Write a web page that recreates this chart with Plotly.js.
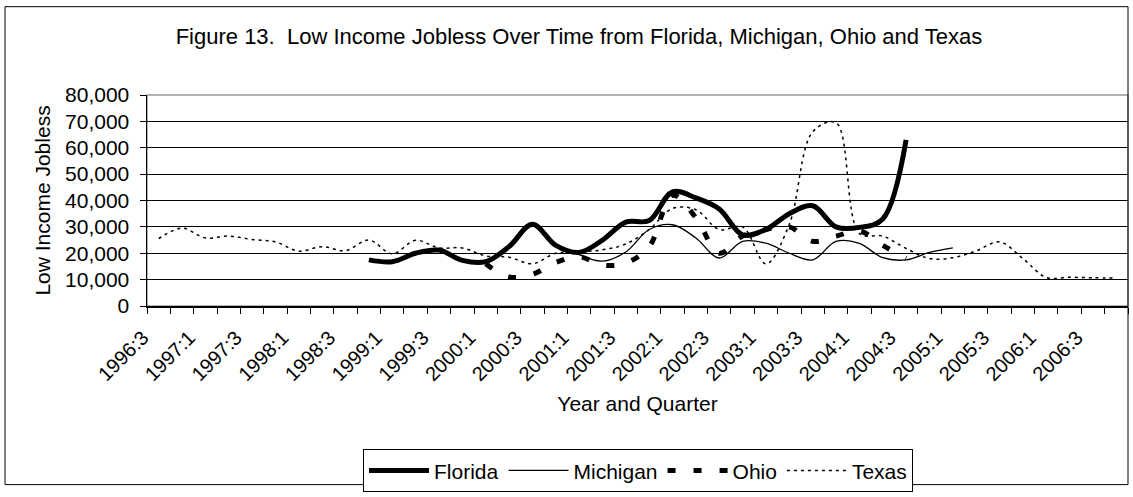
<!DOCTYPE html>
<html>
<head>
<meta charset="utf-8">
<script src="https://cdn.plot.ly/plotly-3.0.1.min.js"></script>
<style>
html,body{margin:0;padding:0;background:#fff;}
#chart{width:1133px;height:497px;}
</style>
</head>
<body>
<div id="chart"></div>
<script>
// Quarters 1996:3 .. 2006:4
var quarters = ["1996:3","1996:4",
  "1997:1","1997:2","1997:3","1997:4",
  "1998:1","1998:2","1998:3","1998:4",
  "1999:1","1999:2","1999:3","1999:4",
  "2000:1","2000:2","2000:3","2000:4",
  "2001:1","2001:2","2001:3","2001:4",
  "2002:1","2002:2","2002:3","2002:4",
  "2003:1","2003:2","2003:3","2003:4",
  "2004:1","2004:2","2004:3","2004:4",
  "2005:1","2005:2","2005:3","2005:4",
  "2006:1","2006:2","2006:3","2006:4"];

var florida = [null,null,null,null,null,null,null,null,null,
  17500,16800,20000,21200,17300,16800,22500,31000,23000,20300,25000,
  31800,32400,43300,41000,36800,27000,29000,35000,38000,30000,
  29800,33000,63000,
  null,null,null,null,null,null,null,null,null];

var michigan = [null,null,null,null,null,null,null,null,null,null,
  null,null,null,null,null,null,null,null,
  19500,17000,20500,29000,30800,25800,18200,24500,23800,20000,17500,
  24500,23700,18300,17500,20300,22000,
  null,null,null,null,null,null,null];

var ohio = [null,null,null,null,null,null,null,null,null,null,
  null,null,null,null,
  16000,11000,12000,16500,18700,15500,16300,22500,42000,33500,20000,
  26500,29000,30000,24500,26500,28500,23000,18000,
  null,null,null,null,null,null,null,null,null];

var texas = [25500,29500,25800,26500,25200,24300,20800,22500,21000,25000,
  19800,24900,22000,22000,19000,18500,16000,20000,20500,21300,
  23500,29000,37000,36500,29000,30000,16000,31000,66000,69500,
  27500,26500,21800,18000,18300,20900,24300,18000,10800,10900,
  10700,10600];

var seriesNames = ["Florida","Michigan","Ohio","Texas"];
var titleText = "Figure 13.  Low Income Jobless Over Time from Florida, Michigan, Ohio and Texas";
var xTitle = "Year and Quarter";
var yTitle = "Low Income Jobless";

// positions of categories (index along the category axis)
var xi = quarters.map(function(q, i){ return i; });
var labelIdx = xi.filter(function(i){ return i % 2 === 0; });
var labelText = labelIdx.map(function(i){ return quarters[i]; });
var bounds = [];
for (var b = 0; b <= quarters.length; b++) bounds.push(b - 0.5);

var FONT = "Liberation Sans, Arial, sans-serif";
var lineStyles = [
  {color:"black", width:5, dash:"solid"},
  {color:"black", width:1.3, dash:"solid"},
  {color:"black", width:5, dash:"8px,18px"},
  {color:"black", width:1.5, dash:"3px,4px"}
];
var data = [florida, michigan, ohio, texas].map(function(arr, k){
  return {
    type:"scatter", mode:"lines", name:seriesNames[k],
    x: xi, y: arr, xaxis:"x", yaxis:"y",
    line: Object.assign({shape:"spline", smoothing:1}, lineStyles[k]),
    connectgaps:false, hoverinfo:"skip"
  };
});

var xr = [-0.5, quarters.length - 0.5];
var layout = {
  width:1133, height:497,
  margin:{l:147, r:5, t:95, b:187, pad:0},
  paper_bgcolor:"white", plot_bgcolor:"white",
  font:{family:FONT, size:20, color:"black"},
  title:{text:titleText, font:{family:FONT, size:22, color:"black"},
         xref:"container", x:0.511, xanchor:"center",
         yref:"container", y:1-36/497, yanchor:"middle"},
  xaxis:{range:xr, tickmode:"array", tickvals:bounds, showticklabels:false,
         ticks:"outside", ticklen:6, tickcolor:"black", tickwidth:1,
         showline:true, linecolor:"black", linewidth:1.5,
         showgrid:false, zeroline:false, fixedrange:true},
  xaxis2:{range:xr, overlaying:"x", anchor:"y", side:"bottom",
          tickmode:"array", tickvals:labelIdx, ticktext:labelText,
          tickangle:-45, ticks:"", showline:false, showgrid:false, zeroline:false,
          tickfont:{family:FONT, size:20, color:"black"},
          ticklabelshift:-16, ticklabelstandoff:15,
          title:{text:xTitle, font:{family:FONT, size:21, color:"black"}, standoff:12}},
  yaxis:{range:[0,80000], tickmode:"linear", tick0:0, dtick:10000, tickformat:",",
         ticks:"outside", ticklen:6, tickcolor:"black",
         showline:true, linecolor:"black", linewidth:1.5,
         showgrid:true, gridcolor:"black", gridwidth:1, zeroline:false,
         tickfont:{family:FONT, size:21, color:"black"}, ticklabelstandoff:6,
         title:{text:yTitle, font:{family:FONT, size:21, color:"black"}, standoff:8}},
  showlegend:true,
  legend:{orientation:"h", x:(363-147)/981, xanchor:"left", y:(310-456)/215, yanchor:"top",
          bgcolor:"white", bordercolor:"black", borderwidth:1,
          font:{family:FONT, size:21, color:"black"}, itemwidth:60,
          traceorder:"normal", tracegroupgap:0},
  shapes:[
    {type:"rect", xref:"paper", yref:"paper", x0:0, x1:1, y0:0, y1:1,
     line:{color:"#999", width:1.5}, layer:"below"},
    {type:"rect", xref:"paper", yref:"paper", x0:(5-147)/981, x1:1, y0:(310-492)/215, y1:(310-5)/215,
     line:{color:"black", width:1}, layer:"below"}
  ]
};
// attach one invisible trace to xaxis2 so the overlay axis is drawn
data.push({type:"scatter", mode:"none", x:[xi[0]], y:[null], xaxis:"x2", yaxis:"y", showlegend:false, hoverinfo:"skip"});

Plotly.newPlot("chart", data, layout, {displayModeBar:false, staticPlot:true});
</script>
</body>
</html>
